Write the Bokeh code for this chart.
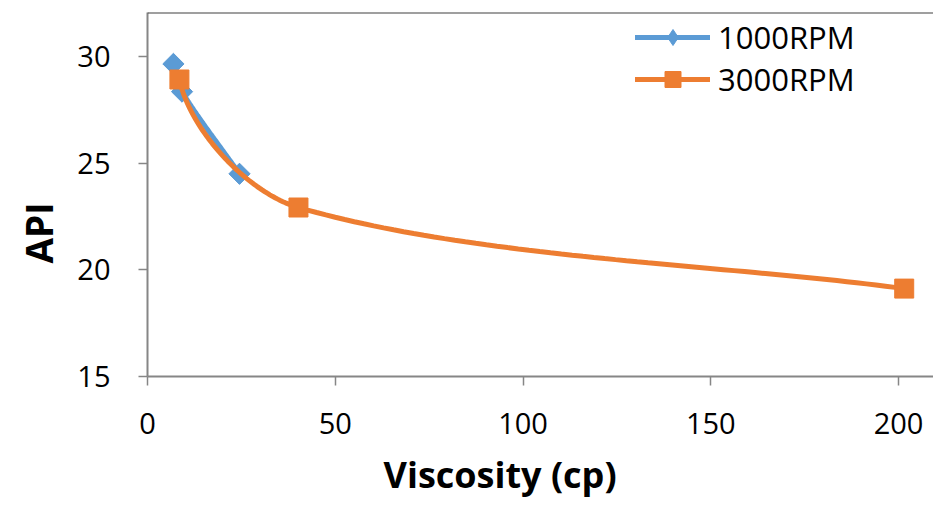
import numpy as np
from bokeh.plotting import figure
from bokeh.models import Range1d, Legend, LegendItem, Span, FixedTicker, Title
from bokeh.embed import file_html
from bokeh.resources import INLINE

# ---- data ----
visc_1000 = [6.9, 9.2, 24.5]
api_1000 = [29.65, 28.35, 24.5]
visc_3000 = [8.5, 40.2, 201.5]
api_3000 = [28.92, 22.92, 19.12]
series_names = ["1000RPM", "3000RPM"]
x_ticks = [0, 50, 100, 150, 200]
y_ticks = [15, 20, 25, 30]
x_title = "Viscosity (cp)"
y_title = "API"

# ---- layout ----
W, H = 933, 510
BL, BR, BT, BB = 147, 0, 12, 134
XR = (0, 209.3)
YR = (15, 32.06)
FONT = "Open Sans"
BLUE = "#5B9BD5"
ORANGE = "#ED7D31"
AXIS = "#868686"

frame_w = W - BL - BR
frame_h = H - BT - BB
sx = frame_w / (XR[1] - XR[0])
sy = frame_h / (YR[1] - YR[0])


def _unit(v):
    return v / np.linalg.norm(v)


def smooth(xs, ys, k=0.3, n=60):
    P = np.column_stack([np.asarray(xs, float) * sx, np.asarray(ys, float) * sy])
    m = len(P)
    T = [None] * m
    for i in range(1, m - 1):
        T[i] = _unit(P[i + 1] - P[i - 1])
    if m > 2:
        c = _unit(P[1] - P[0])
        T[0] = _unit(2 * np.dot(T[1], c) * c - T[1])
    else:
        T[0] = _unit(P[1] - P[0])
    T[-1] = _unit(P[-1] - P[-2])
    out = []
    tt = np.linspace(0, 1, n)[:, None]
    for i in range(m - 1):
        d = np.linalg.norm(P[i + 1] - P[i])
        c1 = P[i] + T[i] * d * k
        c2 = P[i + 1] - T[i + 1] * d * k
        b = ((1 - tt) ** 3) * P[i] + 3 * ((1 - tt) ** 2) * tt * c1 + 3 * (1 - tt) * tt ** 2 * c2 + tt ** 3 * P[i + 1]
        out.append(b if i == 0 else b[1:])
    B = np.vstack(out)
    return B[:, 0] / sx, B[:, 1] / sy


p = figure(width=W, height=H, output_backend="svg", toolbar_location=None,
           x_range=Range1d(*XR), y_range=Range1d(*YR),
           min_border_left=BL, min_border_right=BR, min_border_top=BT, min_border_bottom=BB)
p.outline_line_color = None
p.xgrid.visible = False
p.ygrid.visible = False
p.background_fill_color = "white"
p.border_fill_color = "white"

for ax in (p.xaxis[0], p.yaxis[0]):
    ax.axis_line_color = AXIS
    ax.axis_line_width = 2
    ax.major_tick_line_color = AXIS
    ax.major_tick_line_width = 1.5
    ax.major_tick_in = 0
    ax.major_tick_out = 9
    ax.minor_tick_line_color = None
    ax.major_label_text_font = FONT
    ax.major_label_text_font_size = "29px"
    ax.major_label_text_color = "black"
p.xaxis.ticker = FixedTicker(ticks=x_ticks)
p.yaxis.ticker = FixedTicker(ticks=y_ticks)
p.xaxis.major_label_standoff = 27
p.yaxis.major_label_standoff = 28

# top border line
p.add_layout(Span(location=YR[1], dimension="width", line_color="#404040", line_width=2))

# series 1000RPM
cx1, cy1 = smooth(visc_1000, api_1000)
l1 = p.line(cx1, cy1, line_color=BLUE, line_width=5, line_cap="round")
m1_leg = p.scatter(visc_1000, api_1000, marker="diamond", size=20, fill_color=BLUE, line_color=BLUE)
m1 = p.scatter(visc_1000, api_1000, marker="square", size=15, angle=np.pi / 4,
               fill_color=BLUE, line_color=BLUE)

# series 3000RPM
cx2, cy2 = smooth(visc_3000, api_3000)
l2 = p.line(cx2, cy2, line_color=ORANGE, line_width=5, line_cap="round")
m2 = p.scatter(visc_3000, api_3000, marker="square", size=19,
               fill_color=ORANGE, line_color=ORANGE)

legend = Legend(items=[LegendItem(label=series_names[0], renderers=[l1, m1_leg]),
                       LegendItem(label=series_names[1], renderers=[l2, m2])],
                location=(488, 276), orientation="vertical",
                glyph_width=75, glyph_height=40, spacing=0, padding=0, margin=0,
                label_standoff=8, label_text_font=FONT, label_text_font_size="31px",
                label_text_color="black", border_line_color=None,
                background_fill_alpha=0)
p.add_layout(legend)

p.add_layout(Title(text=x_title, align="left", offset=236, standoff=23,
                   text_font=FONT, text_font_style="bold", text_font_size="36px",
                   text_color="black"), "below")
p.add_layout(Title(text=y_title, align="left", offset=113, standoff=21,
                   text_font=FONT, text_font_style="bold", text_font_size="37px",
                   text_color="black"), "left")

open("out.html", "w").write(file_html(p, INLINE))
